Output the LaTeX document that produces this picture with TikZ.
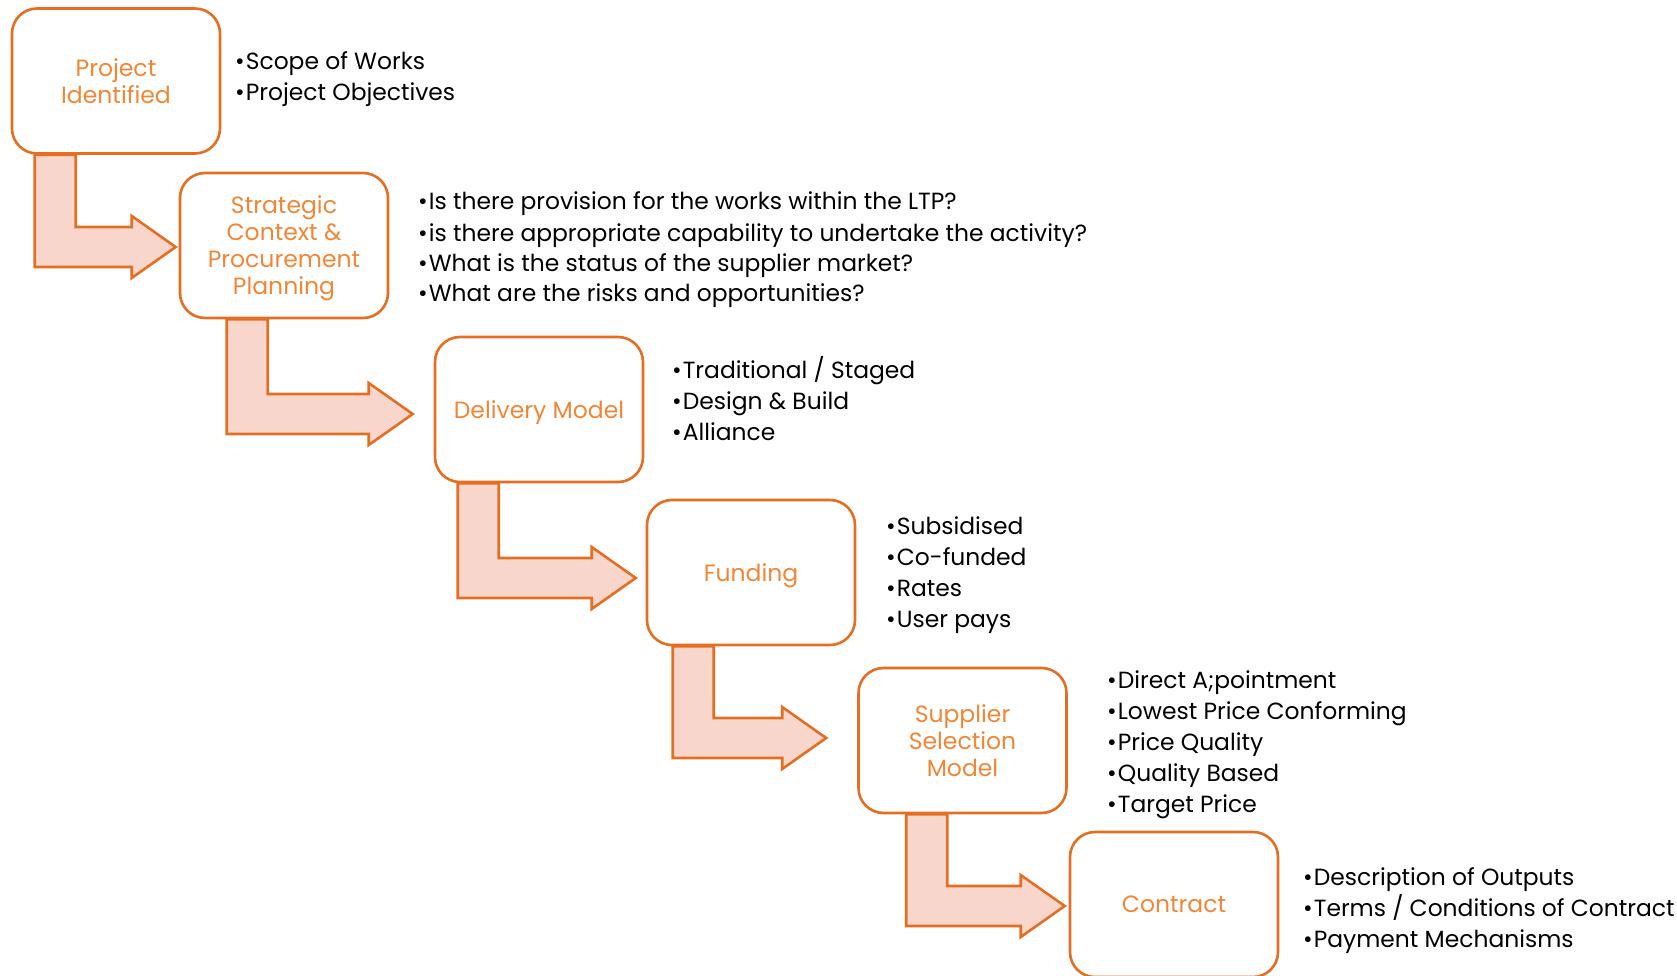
\documentclass[tikz,border=0pt]{standalone}
\usepackage{fontspec}
\setmainfont{Poppins}
\usetikzlibrary{calc}

\definecolor{edge}{RGB}{228,110,34}
\definecolor{title}{RGB}{240,135,55}
\definecolor{flowfill}{RGB}{249,214,204}

\pgfdeclarelayer{back}
\pgfsetlayers{back,main}

% bent block arrow from the bottom of one stage to the side of the next
% #1 source node, #2 target node, #3 stem offset from source's left side,
% #4 gap in front of target, #5 tip shift below target centre
\newcommand\bentarrow[5]{%
  \filldraw[flowarrow] let \p1=(#1.south west), \p2=(#2.west) in
    (\x1+#3,\y1) -- (\x1+#3+41pt,\y1) -- (\x1+#3+41pt,\y2-#5+20pt)
    -- (\x2-#4-44pt,\y2-#5+20pt) -- (\x2-#4-44pt,\y2-#5+31pt)
    -- (\x2-#4,\y2-#5) -- (\x2-#4-44pt,\y2-#5-31pt)
    -- (\x2-#4-44pt,\y2-#5-20pt) -- (\x1+#3,\y2-#5-20pt) -- cycle;}

\newcommand\bul{•\kern1pt}

\tikzset{
  stage/.style={draw=edge, line width=2.6pt, fill=white, rounded corners=25pt,
    minimum width=208pt, minimum height=145pt, align=center, text=title,
    font=\fontsize{23.5}{27}\selectfont, inner sep=0pt, text depth=0pt},
  flowarrow/.style={draw=edge, fill=flowfill, line width=2.6pt, line join=miter},
  item/.style={anchor=base west, inner sep=0pt, text=black,
    font=\fontsize{23.4}{27}\selectfont},
}

\begin{document}
\begin{tikzpicture}[x=1pt, y=-1pt]
\useasboundingbox (0,0) rectangle (1677,976);

% the stages
\node[stage] (p1) at (116,81)      {Project\\Identified};
\node[stage] (p2) at (284,245.5)   {Strategic\\Context \&\\Procurement\\Planning};
\node[stage] (p3) at (539,409.5)   {Delivery Model};
\node[stage] (p4) at (751,572.5)   {Funding};
\node[stage] (p5) at (962.5,740.5) {Supplier\\Selection\\Model};
\node[stage] (p6) at (1174,904.5)  {Contract};

% arrows between the stages, tucked under the boxes
\begin{pgfonlayer}{back}
\bentarrow{p1}{p2}{24pt}{3pt}{1.5pt}
\bentarrow{p2}{p3}{48pt}{21pt}{4.5pt}
\bentarrow{p3}{p4}{24pt}{10pt}{5.5pt}
\bentarrow{p4}{p5}{27pt}{31pt}{-2.5pt}
\bentarrow{p5}{p6}{49pt}{4pt}{1.5pt}
\end{pgfonlayer}

% notes beside each stage
\node[item] (n1a) at (235,70)  {\bul Scope of Works};
\node[item] (n1b) at (235,101) {\bul Project Objectives};

\node[item] (n2a) at (418,210) {\bul Is there provision for the works within the LTP?};
\node[item] (n2b) at (418,241) {\bul is there appropriate capability to undertake the activity?};
\node[item] (n2c) at (418,271) {\bul What is the status of the supplier market?};
\node[item] (n2d) at (418,301) {\bul What are the risks and opportunities?};

\node[item] (n3a) at (672,378) {\bul Traditional / Staged};
\node[item] (n3b) at (672,409) {\bul Design \& Build};
\node[item] (n3c) at (672,440) {\bul Alliance};

\node[item] (n4a) at (886,534) {\bul Subsidised};
\node[item] (n4b) at (886,565) {\bul Co-funded};
\node[item] (n4c) at (886,596) {\bul Rates};
\node[item] (n4d) at (886,627) {\bul User pays};

\node[item] (n5a) at (1107,688) {\bul Direct A;pointment};
\node[item] (n5b) at (1107,719) {\bul Lowest Price Conforming};
\node[item] (n5c) at (1107,750) {\bul Price Quality};
\node[item] (n5d) at (1107,781) {\bul Quality Based};
\node[item] (n5e) at (1107,812) {\bul Target Price};

\node[item] (n6a) at (1303,885) {\bul Description of Outputs};
\node[item] (n6b) at (1303,916) {\bul Terms / Conditions of Contract};
\node[item] (n6c) at (1303,947) {\bul Payment Mechanisms};
\end{tikzpicture}
\end{document}
